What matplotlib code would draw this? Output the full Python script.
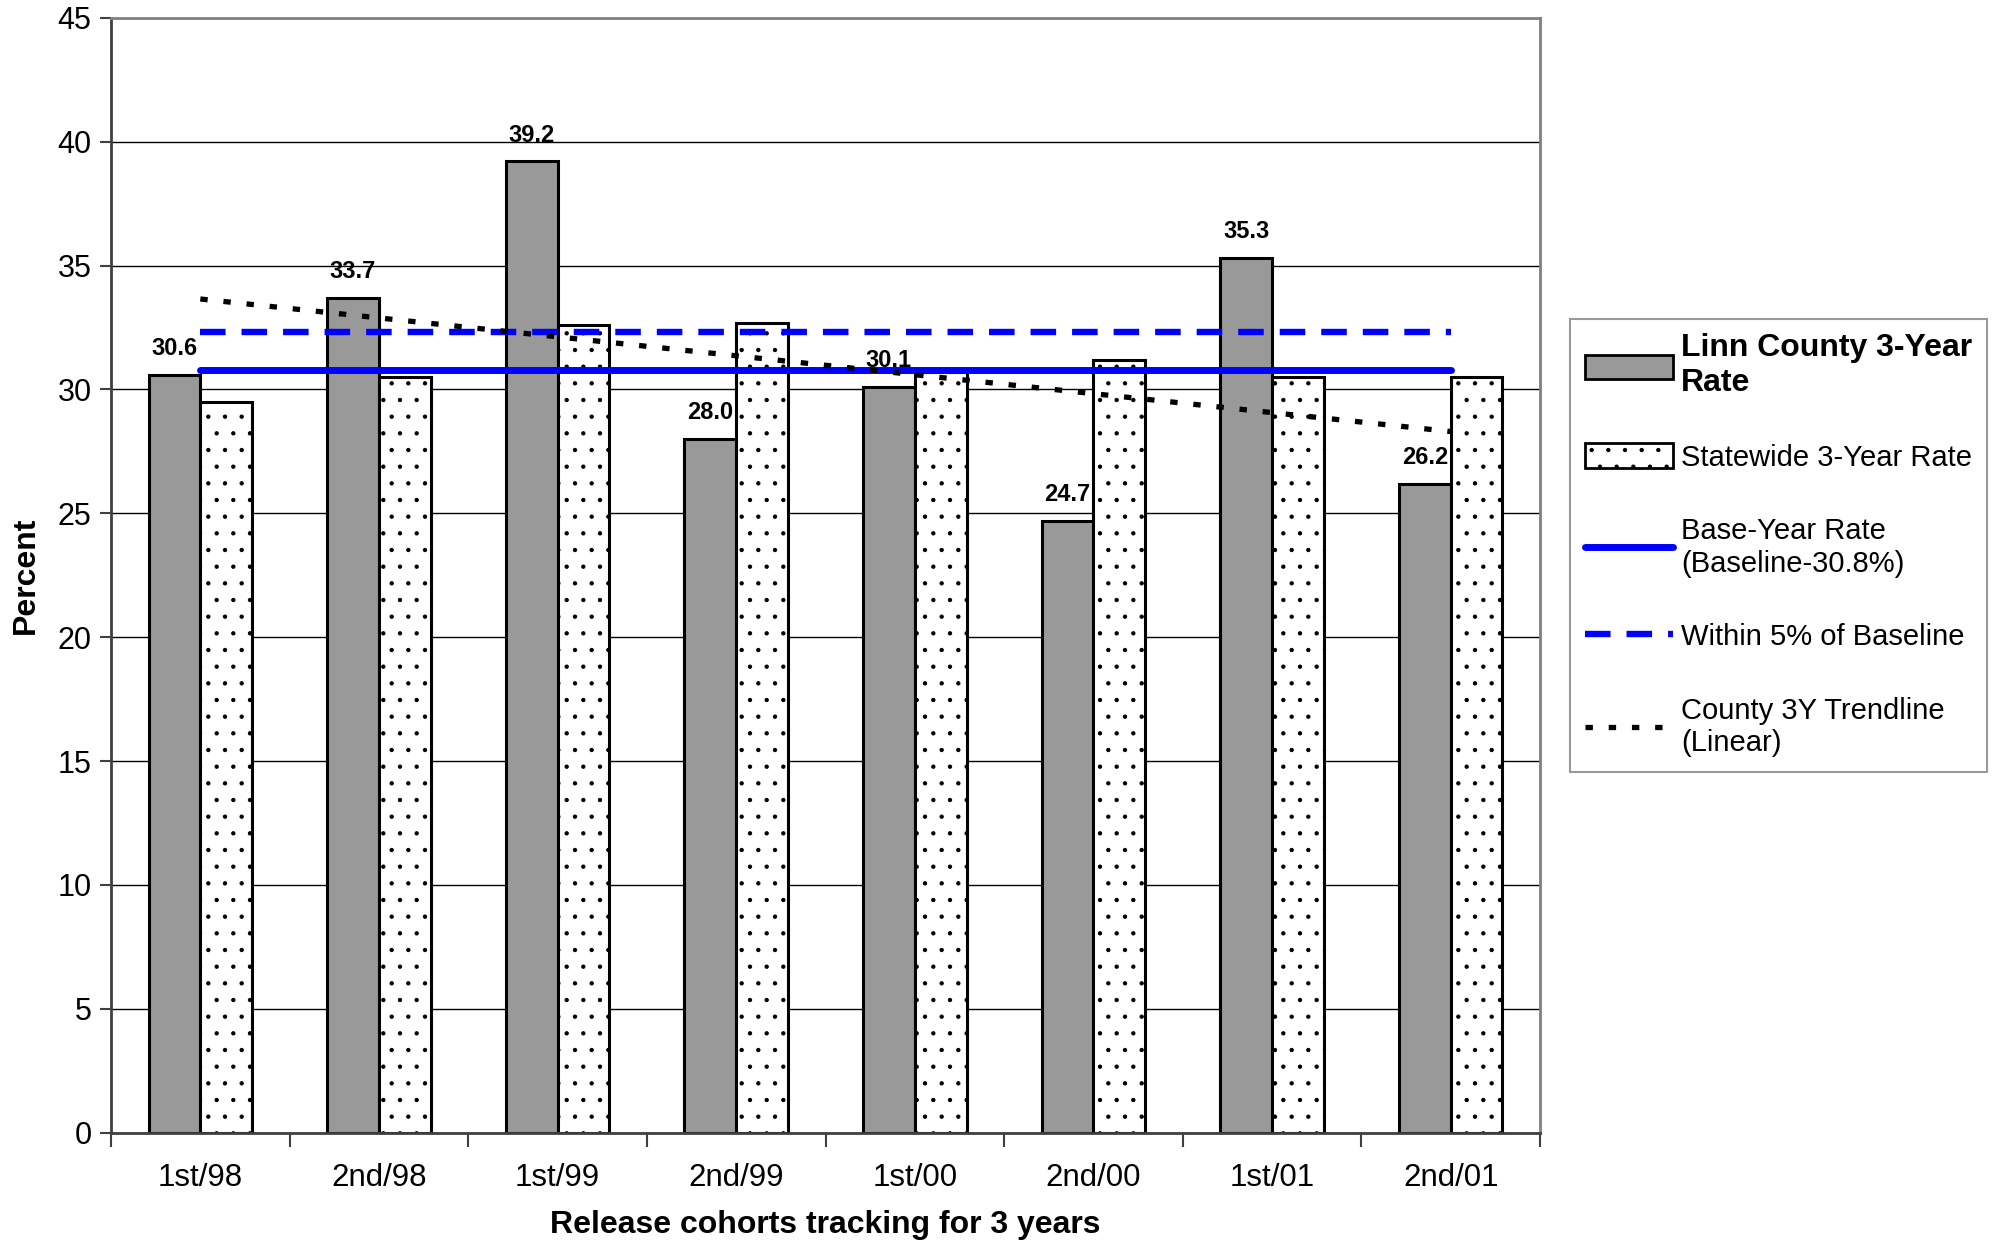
import matplotlib.pyplot as plt
import numpy as np
from matplotlib.lines import Line2D
from matplotlib.patches import Patch

plt.rcParams["font.family"] = ["Liberation Sans", "DejaVu Sans"]
plt.rcParams["hatch.linewidth"] = 0.7

cohorts = ["1st/98", "2nd/98", "1st/99", "2nd/99", "1st/00", "2nd/00", "1st/01", "2nd/01"]
county_rate = [30.6, 33.7, 39.2, 28.0, 30.1, 24.7, 35.3, 26.2]
statewide_rate = [29.5, 30.5, 32.6, 32.7, 30.7, 31.2, 30.5, 30.5]
baseline = 30.8
within_5pct = 32.3

x = np.arange(len(cohorts))
width = 0.29

fig = plt.figure(figsize=(19.93, 12.5), dpi=100)
ax = fig.add_axes([0.0557, 0.0938, 0.717, 0.892])

ax.set_axisbelow(True)
ax.yaxis.grid(True, color="black", linewidth=1.0)

ax.bar(x - width / 2, county_rate, width, color="#999999", edgecolor="black", linewidth=2.2)
ax.bar(x + width / 2, statewide_rate, width, color="white", edgecolor="black",
       linewidth=2.2, hatch=".")

for xi, v in zip(x, county_rate):
    ax.text(xi - width / 2, v + 0.6, f"{v:.1f}", ha="center", va="bottom",
            fontsize=17, fontweight="bold")

ax.plot([x[0], x[-1]], [baseline, baseline], color="#0000ff", linewidth=5,
        solid_capstyle="round")
ax.plot([x[0], x[-1]], [within_5pct, within_5pct], color="#0000ff", linewidth=4.6,
        dashes=(4.0, 2.5))
slope, icpt = np.polyfit(x, county_rate, 1)
ax.plot(x, slope * x + icpt, color="black", linewidth=3.8, dashes=(1.4, 3.0))

ax.set_xlim(-0.5, len(cohorts) - 0.5)
ax.set_ylim(0, 45)
ax.set_yticks(range(0, 46, 5))
ax.set_xticks(x)
ax.set_xticklabels(cohorts, fontsize=22.5)
ax.set_xticks(np.arange(-0.5, len(cohorts), 1), minor=True)
ax.tick_params(axis="x", which="major", length=0, pad=22)
ax.tick_params(axis="x", which="minor", length=10, width=1.5, color="#404040")
ax.tick_params(axis="y", labelsize=22, length=8, width=1.5, color="#404040", pad=6)

for s in ["left", "bottom"]:
    ax.spines[s].set_color("#404040")
    ax.spines[s].set_linewidth(2)
for s in ["top", "right"]:
    ax.spines[s].set_color("#808080")
    ax.spines[s].set_linewidth(2)

ax.set_xlabel("Release cohorts tracking for 3 years", fontsize=23, fontweight="bold",
              labelpad=12)
ax.set_ylabel("Percent", fontsize=23, fontweight="bold", labelpad=12)

handles = [
    Patch(facecolor="#999999", edgecolor="black", linewidth=2),
    Patch(facecolor="white", edgecolor="black", linewidth=2, hatch="."),
    Line2D([], [], color="#0000ff", linewidth=5, solid_capstyle="round"),
    Line2D([], [], color="#0000ff", linewidth=4.6, dashes=(4.0, 2.5)),
    Line2D([], [], color="black", linewidth=3.8, dashes=(1.4, 3.0)),
]
labels = [
    "Linn County 3-Year\nRate",
    "Statewide 3-Year Rate",
    "Base-Year Rate\n(Baseline-30.8%)",
    "Within 5% of Baseline",
    "County 3Y Trendline\n(Linear)",
]
leg = fig.legend(handles, labels, loc="upper left", bbox_to_anchor=(0.788, 0.745),
                 fontsize=21, frameon=True, fancybox=False, edgecolor="#808080",
                 handlelength=3.0, handleheight=0.9, labelspacing=1.56,
                 borderpad=0.5, handletextpad=0.3, borderaxespad=0)
leg.get_frame().set_linewidth(1.5)
leg.get_texts()[0].set_fontweight("bold")
leg.get_texts()[0].set_fontsize(23)

fig.savefig("out.png", dpi=100)
